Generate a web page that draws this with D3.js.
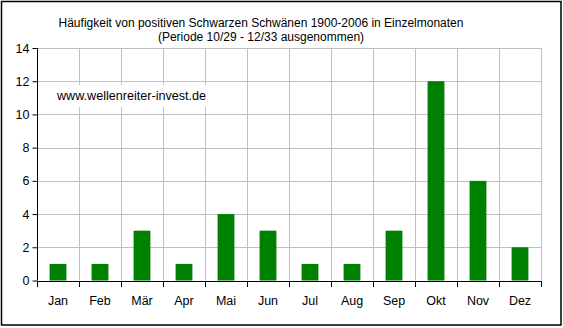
<!DOCTYPE html>
<html>
<head>
<meta charset="utf-8">
<script src="https://cdn.jsdelivr.net/npm/d3@7"></script>
<style>
  html, body { margin: 0; padding: 0; background: #fff; }
  svg { display: block; font-family: "Liberation Sans", Arial, sans-serif; }
</style>
</head>
<body>
<svg id="chart" width="563" height="328"></svg>
<script>
// Monthly counts of positive "black swan" days, 1900-2006
const months = ["Jan", "Feb", "Mär", "Apr", "Mai", "Jun", "Jul", "Aug", "Sep", "Okt", "Nov", "Dez"];
const counts = [1, 1, 3, 1, 4, 3, 1, 1, 3, 12, 6, 2];
const yTicks = [0, 2, 4, 6, 8, 10, 12, 14];
const titleLines = [
  "Häufigkeit von positiven Schwarzen Schwänen 1900-2006 in Einzelmonaten",
  "(Periode 10/29 - 12/33 ausgenommen)"
];
const watermark = "www.wellenreiter-invest.de";

const svg = d3.select("#chart");
const plotLeft = 37, plotRight = 541, plotTop = 48, plotBottom = 280.5;

const x = d3.scaleBand().domain(months).range([plotLeft, plotRight])
  .paddingInner(0.6).paddingOuter(0.3);
const y = d3.scaleLinear().domain([0, 14]).range([plotBottom, plotTop]);
const step = x.step();

// outer frame
svg.append("rect").attr("x", 1.5).attr("y", 1.5).attr("width", 559.5).attr("height", 323.5)
  .attr("fill", "#fff").attr("stroke", "#000").attr("stroke-width", 1.5);

// horizontal gridlines
svg.append("g").selectAll("line").data(yTicks.filter(d => d > 0)).join("line")
  .attr("x1", plotLeft).attr("x2", plotRight)
  .attr("y1", d => Math.round(y(d)) + 0.5).attr("y2", d => Math.round(y(d)) + 0.5)
  .attr("stroke", "#c0c0c0").attr("stroke-width", 1);

// vertical gridlines at category boundaries
const bounds = months.map((m, i) => plotLeft + step * (i + 1));
svg.append("g").selectAll("line").data(bounds).join("line")
  .attr("x1", d => Math.round(d) + 0.5).attr("x2", d => Math.round(d) + 0.5)
  .attr("y1", plotTop).attr("y2", plotBottom)
  .attr("stroke", "#c0c0c0").attr("stroke-width", 1);

// watermark with white backing
const wm = svg.append("g");
wm.append("rect").attr("x", 51).attr("y", 85).attr("width", 162).attr("height", 22).attr("fill", "#fff");
wm.append("text").attr("x", 57).attr("y", 100).attr("font-size", 12.6).attr("fill", "#000").text(watermark);

// bars
svg.append("g").selectAll("rect").data(counts).join("rect")
  .attr("x", (d, i) => x(months[i]))
  .attr("width", x.bandwidth())
  .attr("y", d => y(d))
  .attr("height", d => y(0) - y(d))
  .attr("fill", "#008000");

// y axis
const yAxis = d3.axisLeft(y).tickValues(yTicks).tickSize(5).tickPadding(3).tickFormat(d3.format("d"));
const gy = svg.append("g").attr("transform", `translate(${plotLeft + 0.5},0)`).call(yAxis);
gy.select(".domain").attr("stroke", "#000").attr("d", `M0,${plotTop}V${plotBottom}`);
gy.selectAll(".tick text").attr("font-size", 12.5).attr("font-family", "Liberation Sans, Arial, sans-serif").attr("fill", "#000");

// x axis: line with ticks at category boundaries
const gx = svg.append("g");
gx.append("line").attr("x1", plotLeft).attr("x2", plotRight + 0.5)
  .attr("y1", Math.round(plotBottom) + 0.5).attr("y2", Math.round(plotBottom) + 0.5).attr("stroke", "#000");
gx.selectAll("line.tk").data([plotLeft].concat(bounds)).join("line").attr("class", "tk")
  .attr("x1", d => Math.round(d) + 0.5).attr("x2", d => Math.round(d) + 0.5)
  .attr("y1", Math.round(plotBottom)).attr("y2", Math.round(plotBottom) + 6)
  .attr("stroke", "#000");
gx.selectAll("text").data(months).join("text")
  .attr("x", d => x(d) + x.bandwidth() / 2)
  .attr("y", 305)
  .attr("text-anchor", "middle")
  .attr("font-size", 12.5)
  .attr("fill", "#000")
  .text(d => d);

// title
svg.append("g").selectAll("text").data(titleLines).join("text")
  .attr("x", 261).attr("y", (d, i) => 27 + i * 14)
  .attr("text-anchor", "middle")
  .attr("font-size", 12)
  .attr("fill", "#000")
  .text(d => d);
</script>
</body>
</html>
